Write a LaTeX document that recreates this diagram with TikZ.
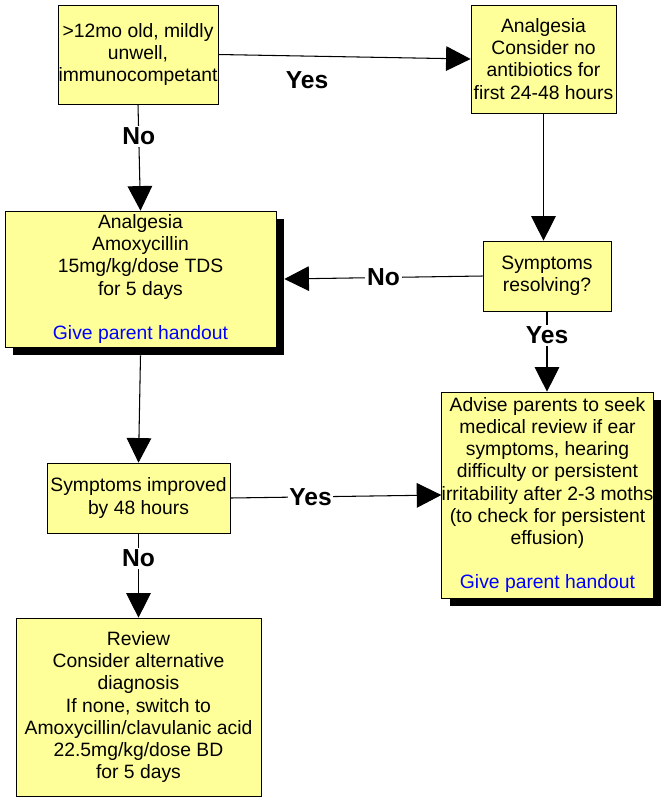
\documentclass[tikz,border=0pt]{standalone}
\usepackage{fontspec}
\setmainfont{Liberation Sans}
\usetikzlibrary{arrows.meta,positioning}
\definecolor{boxyellow}{HTML}{FFFF99}
\definecolor{handblue}{HTML}{0000FF}
\tikzset{
  stage/.style={draw=black,fill=boxyellow,align=center,inner sep=0pt,
    font=\fontsize{11pt}{12.6pt}\selectfont},
  shadowed/.style={stage,preaction={fill=black,transform canvas={shift={(0.16cm,-0.16cm)}}}},
  flow/.style={-{Triangle[length=14pt,width=14pt]},line width=0.6pt},
  answer/.style={fill=white,inner sep=1pt,font=\fontsize{14pt}{16pt}\bfseries\selectfont}
}
\begin{document}
\begin{tikzpicture}[x=0.02cm,y=-0.02cm]
  \useasboundingbox (0,0) rectangle (665,806);
  \node[stage,minimum width=3.2cm,minimum height=1.98cm] (start) at (138,54.5)
    {>12mo old, mildly\\unwell,\\immunocompetant};
  \node[stage,minimum width=2.9cm,minimum height=2.16cm] (watch) at (543.5,59)
    {Analgesia\\Consider no\\antibiotics for\\first 24-48 hours};
  \node[shadowed,minimum width=5.42cm,minimum height=2.72cm] (treat) at (140.5,279)
    {Analgesia\\Amoxycillin\\15mg/kg/dose TDS\\for 5 days\\[12.6pt]\textcolor{handblue}{Give parent handout}};
  \node[stage,minimum width=2.56cm,minimum height=1.4cm] (resolving) at (547,276)
    {Symptoms\\resolving?};
  \node[stage,minimum width=3.66cm,minimum height=1.4cm] (improved) at (138.5,498)
    {Symptoms improved\\by 48 hours};
  \node[shadowed,minimum width=4.14cm,minimum height=4.12cm] (advise) at (547.5,495)
    {Advise parents to seek\\medical review if ear\\symptoms, hearing\\difficulty or persistent\\irritability after 2-3 moths\\(to check for persistent\\effusion)\\[12.6pt]\textcolor{handblue}{Give parent handout}};
  \node[stage,minimum width=4.9cm,minimum height=3.56cm] (review) at (138.5,707)
    {Review\\Consider alternative\\diagnosis\\If none, switch to\\Amoxycillin/clavulanic acid\\22.5mg/kg/dose BD\\for 5 days};
  % connectors
  \draw[flow] (start.east) -- (watch.west);
  \node[answer] at (307,80) {Yes};
  \draw[flow] (start.south) -- node[answer,pos=0.3] {No} (treat.north);
  \draw[flow] (watch.south) -- (resolving.north -| watch.south);
  \draw[flow] (resolving.west) -- node[answer] {No} ([xshift=0.16cm]treat.east);
  \draw[flow] (resolving.south) -- node[answer,pos=0.3] {Yes} (advise.north -| resolving.south);
  \draw[flow] ([yshift=-0.16cm]treat.south) -- (improved.north);
  \draw[flow] (improved.east) -- node[answer,pos=0.38] {Yes} (advise.west);
  \draw[flow] (improved.south) -- node[answer,pos=0.3] {No} (review.north);
\end{tikzpicture}
\end{document}
